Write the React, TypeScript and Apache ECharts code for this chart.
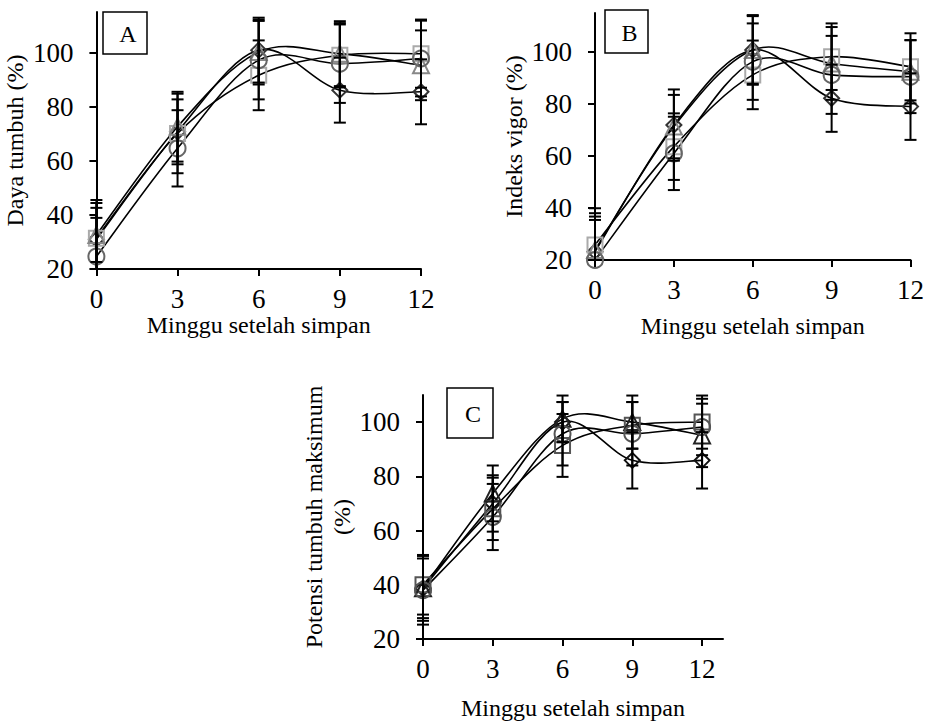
import React, { useEffect, useRef } from "react";
import * as echarts from "echarts";

// ---------- data ----------
const weeks = [0, 3, 6, 9, 12];
const xTickValues = [0, 3, 6, 9, 12];
const yTickValues = [20, 40, 60, 80, 100];

// Panel A: Daya tumbuh (%)
const aDiamond = [31, 70.7, 100.9, 86.1, 85.5];
const aSquare = [31.4, 70.1, 91.6, 99, 99.6];
const aTriangle = [32.6, 72.6, 100.2, 99.6, 95.3];
const aCircle = [24.6, 64.6, 97.2, 95.9, 97.8];
const aDiamondErr = [13.4, 12, 12, 12, 12];
const aSquareErr = [14.1, 14.7, 12.9, 11.9, 12.6];
const aTriangleErr = [10, 12.9, 12, 12, 12.9];
const aCircleErr = [14.3, 14.1, 14.5, 14.5, 14];

// Panel B: Indeks vigor (%)
const bDiamond = [23.2, 71.9, 100.8, 82.2, 79];
const bSquare = [25.8, 63.6, 91.2, 98.2, 94.3];
const bTriangle = [23.8, 71.3, 100.8, 95.6, 92.4];
const bCircle = [20, 61, 96.3, 91.2, 90.5];
const bDiamondErr = [13.5, 13.7, 13.4, 12.9, 12.8];
const bSquareErr = [14.1, 12.8, 13.2, 12.8, 12.9];
const bTriangleErr = [11.6, 12.2, 13, 14, 12.2];
const bCircleErr = [18, 14.1, 14.7, 15, 14];

// Panel C: Potensi tumbuh maksimum (%)
const cDiamond = [38.7, 70, 100, 85.9, 85.9];
const cSquare = [40, 68, 91.4, 98.8, 100];
const cTriangle = [38.7, 73.7, 101.2, 100, 95.1];
const cCircle = [38, 65, 95.7, 95.7, 98.2];
const cDiamondErr = [11, 10.4, 7.4, 10.4, 10.4];
const cSquareErr = [11, 11.5, 11.6, 8.6, 9.8];
const cTriangleErr = [12, 10.3, 8.6, 9.8, 11.7];
const cCircleErr = [12.7, 12.2, 11.7, 11.7, 10.4];

const xName = "Minggu setelah simpan";

// ---------- styles / layout ----------
const FONT = "'Liberation Serif', 'Times New Roman', serif";
const TICK_FONT = 27;
const NAME_FONT = 24;

type Mark = { symbol: string; size: number; color: string };
const marksAB: Mark[] = [
  { symbol: "diamond", size: 15, color: "#333333" },
  { symbol: "rect", size: 15, color: "#aaaaaa" },
  { symbol: "triangle", size: 16, color: "#888888" },
  { symbol: "circle", size: 16, color: "#666666" },
];
const marksC: Mark[] = [
  { symbol: "diamond", size: 15, color: "#111111" },
  { symbol: "rect", size: 15, color: "#555555" },
  { symbol: "triangle", size: 16, color: "#222222" },
  { symbol: "circle", size: 16, color: "#555555" },
];

const panels = [
  {
    label: "A",
    grid: { left: 89, top: 12, width: 332, height: 257 },
    yMax: 115,
    xMax: 12,
    yName: "Daya tumbuh (%)",
    yNameGap: 55,
    xNameGap: 37,
    box: { x: 103, y: 12, w: 44, h: 42 },
    values: [aDiamond, aSquare, aTriangle, aCircle],
    errors: [aDiamondErr, aSquareErr, aTriangleErr, aCircleErr],
    marks: marksAB,
  },
  {
    label: "B",
    grid: { left: 595, top: 13, width: 319, height: 247 },
    yMax: 115,
    xMax: 12,
    yName: "Indeks vigor (%)",
    yNameGap: 65,
    xNameGap: 54,
    box: { x: 605, y: 10, w: 43, h: 43 },
    values: [bDiamond, bSquare, bTriangle, bCircle],
    errors: [bDiamondErr, bSquareErr, bTriangleErr, bCircleErr],
    marks: marksAB,
  },
  {
    label: "C",
    grid: { left: 423, top: 395, width: 300, height: 244 },
    yMax: 110,
    xMax: 12.9,
    yName: "Potensi tumbuh maksimum\n(%)",
    yNameGap: 60,
    xNameGap: 57,
    box: { x: 447, y: 388, w: 46, h: 50 },
    values: [cDiamond, cSquare, cTriangle, cCircle],
    errors: [cDiamondErr, cSquareErr, cTriangleErr, cCircleErr],
    marks: marksC,
  },
];

const Y_MIN = 20;

export default function App() {
  const ref = useRef<HTMLDivElement>(null);
  useEffect(() => {
    document.body.style.margin = "0";
    if (!ref.current) return;
    const chart = echarts.init(ref.current, null, { renderer: "svg" });

    const grids: any[] = [];
    const xAxes: any[] = [];
    const yAxes: any[] = [];
    const series: any[] = [];
    const graphics: any[] = [];

    panels.forEach((p, gi) => {
      grids.push({ ...p.grid, containLabel: false });
      xAxes.push({
        type: "value",
        gridIndex: gi,
        min: 0,
        max: p.xMax,
        name: xName,
        nameLocation: "middle",
        nameGap: p.xNameGap,
        nameTextStyle: { fontFamily: FONT, fontSize: NAME_FONT, color: "#000" },
        axisLine: { show: true, onZero: false, lineStyle: { color: "#000", width: 2 } },
        axisTick: { show: true, length: 7, customValues: xTickValues, lineStyle: { color: "#000", width: 2 } },
        axisLabel: { customValues: xTickValues, fontFamily: FONT, fontSize: TICK_FONT, color: "#000", margin: 16 },
        splitLine: { show: false },
      });
      yAxes.push({
        type: "value",
        gridIndex: gi,
        min: Y_MIN,
        max: p.yMax,
        name: p.yName,
        nameLocation: "middle",
        nameGap: p.yNameGap,
        nameTextStyle: { fontFamily: FONT, fontSize: NAME_FONT, color: "#000", lineHeight: 28 },
        axisLine: { show: true, onZero: false, lineStyle: { color: "#000", width: 2 } },
        axisTick: { show: true, length: 7, customValues: yTickValues, lineStyle: { color: "#000", width: 2 } },
        axisLabel: { customValues: yTickValues, fontFamily: FONT, fontSize: TICK_FONT, color: "#000", margin: 23 },
        splitLine: { show: false },
      });

      // smoothed curves (Catmull-Rom style, as in spreadsheet "smoothed line")
      p.values.forEach((vals) => {
        series.push({
          type: "custom",
          xAxisIndex: gi,
          yAxisIndex: gi,
          data: weeks.map((w, i) => [w, vals[i]]),
          encode: { x: 0, y: 1 },
          z: 2,
          silent: true,
          renderItem: (params: any, api: any) => {
            const i = params.dataIndex;
            const n = weeks.length;
            if (i >= n - 1) return { type: "group", children: [] };
            const pt = (j: number) => {
              const k = Math.max(0, Math.min(n - 1, j));
              return api.coord([weeks[k], vals[k]]);
            };
            const p0 = pt(i - 1);
            const p1 = pt(i);
            const p2 = pt(i + 1);
            const p3 = pt(i + 2);
            return {
              type: "bezierCurve",
              shape: {
                x1: p1[0],
                y1: p1[1],
                x2: p2[0],
                y2: p2[1],
                cpx1: p1[0] + (p2[0] - p0[0]) / 6,
                cpy1: p1[1] + (p2[1] - p0[1]) / 6,
                cpx2: p2[0] - (p3[0] - p1[0]) / 6,
                cpy2: p2[1] - (p3[1] - p1[1]) / 6,
              },
              style: { stroke: "#000", lineWidth: 1.6, fill: "none" },
            };
          },
        });
      });

      // markers
      p.values.forEach((vals, si) => {
        const m = p.marks[si];
        series.push({
          type: "scatter",
          xAxisIndex: gi,
          yAxisIndex: gi,
          data: weeks.map((w, i) => [w, vals[i]]),
          symbol: m.symbol,
          symbolSize: m.size,
          itemStyle: { color: "rgba(255,255,255,0)", borderColor: m.color, borderWidth: 2, opacity: 1 },
          z: 3,
        });
      });

      // error bars
      const errData: number[][] = [];
      p.values.forEach((vals, si) => {
        const errs = p.errors[si];
        weeks.forEach((w, i) => errData.push([w, vals[i] - errs[i], vals[i] + errs[i]]));
      });
      series.push({
        type: "custom",
        xAxisIndex: gi,
        yAxisIndex: gi,
        data: errData,
        encode: { x: 0, y: [1, 2] },
        z: 4,
        renderItem: (params: any, api: any) => {
          const x = api.value(0);
          const lo = api.value(1);
          const hi = api.value(2);
          const top = api.coord([x, hi]);
          const bot = api.coord([x, Math.max(lo, Y_MIN)]);
          const st = { stroke: "#000", lineWidth: 2 };
          const children: any[] = [
            { type: "line", shape: { x1: top[0], y1: top[1], x2: bot[0], y2: bot[1] }, style: st },
            { type: "line", shape: { x1: top[0] - 6, y1: top[1], x2: top[0] + 6, y2: top[1] }, style: st },
          ];
          if (lo >= Y_MIN) {
            children.push({ type: "line", shape: { x1: bot[0] - 6, y1: bot[1], x2: bot[0] + 6, y2: bot[1] }, style: st });
          }
          return { type: "group", children };
        },
      });

      graphics.push({
        type: "rect",
        shape: { x: p.box.x, y: p.box.y, width: p.box.w, height: p.box.h },
        style: { fill: "#fff", stroke: "#000", lineWidth: 1.5 },
        z: 10,
      });
      graphics.push({
        type: "text",
        x: p.box.x + p.box.w / 2 + 3,
        y: p.box.y + p.box.h / 2 + 1,
        style: {
          text: p.label,
          fontFamily: FONT,
          fontSize: 24,
          fill: "#000",
          align: "center",
          verticalAlign: "middle",
        },
        z: 11,
      });
    });

    chart.setOption({
      animation: false,
      backgroundColor: "#fff",
      grid: grids,
      xAxis: xAxes,
      yAxis: yAxes,
      series,
      graphic: graphics,
    });
    return () => chart.dispose();
  }, []);
  return <div ref={ref} style={{ width: 927, height: 725 }} />;
}
